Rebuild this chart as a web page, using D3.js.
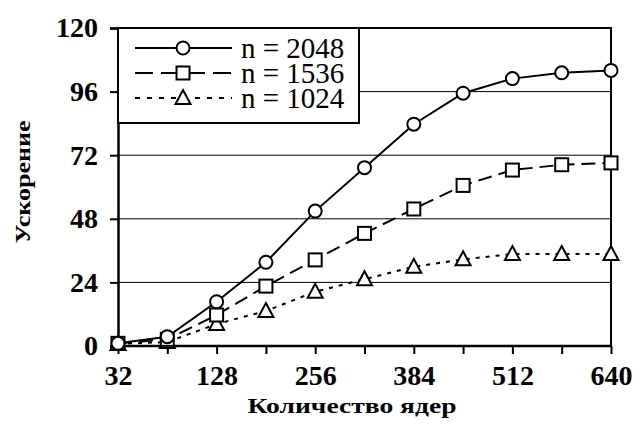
<!DOCTYPE html>
<html>
<head>
<meta charset="utf-8">
<script src="https://cdn.jsdelivr.net/npm/d3@7"></script>
<style>
  body { margin: 0; background: #fff; }
  svg { display: block; }
</style>
</head>
<body>
<div id="chart"></div>
<script>
// cores on the x axis (category axis, every second one is labelled)
const cores = ['32', '64', '128', '192', '256', '320', '384', '448', '512', '576', '640'];
const xTickLabels = ['32', '128', '256', '384', '512', '640'];
const yTicks = [0, 24, 48, 72, 96, 120];

// speedup per matrix size
const speedup2048 = [1, 3.5, 16.7, 31.6, 50.9, 67.3, 83.7, 95.4, 100.9, 103.1, 104.0];
const speedup1536 = [1, 2.5, 11.7, 22.6, 32.5, 42.5, 51.7, 60.6, 66.4, 68.4, 69.1];
const speedup1024 = [0.8, 1.5, 8.3, 13.2, 20.5, 25.2, 29.9, 32.7, 34.7, 34.7, 34.7];

const seriesNames = ['n = 2048', 'n = 1536', 'n = 1024'];

const width = 633;
const height = 437;
const margin = { l: 118, r: 22, t: 28, b: 91 };
const serif = 'Liberation Serif';

const series = [
  { name: seriesNames[0], values: speedup2048, dash: null, marker: 'circle' },
  { name: seriesNames[1], values: speedup1536, dash: '14,7', marker: 'square' },
  { name: seriesNames[2], values: speedup1024, dash: '4,6', marker: 'triangle' },
];

const svg = d3.select('#chart').append('svg')
  .attr('width', width)
  .attr('height', height);

const x = d3.scalePoint()
  .domain(cores)
  .range([margin.l, width - margin.r]);

const y = d3.scaleLinear()
  .domain([0, 120])
  .range([height - margin.b, margin.t]);

// grid lines
svg.append('g')
  .attr('class', 'y-grid')
  .selectAll('line')
  .data(yTicks.filter((d) => d > 0 && d < 120))
  .join('line')
    .attr('x1', margin.l)
    .attr('x2', width - margin.r)
    .attr('y1', (d) => y(d))
    .attr('y2', (d) => y(d))
    .attr('stroke', '#000')
    .attr('stroke-width', 1);

// frame: top and right
svg.append('path')
  .attr('d', `M${margin.l},${y(120)} H${width - margin.r} V${y(0)}`)
  .attr('fill', 'none')
  .attr('stroke', '#000')
  .attr('stroke-width', 2);

// y axis
const yAxis = svg.append('g')
  .attr('class', 'y-axis')
  .attr('transform', `translate(${margin.l},0)`)
  .call(d3.axisLeft(y).tickValues(yTicks).tickSize(8).tickPadding(12).tickFormat(d3.format('d')));
yAxis.select('.domain').attr('stroke-width', 2.5);
yAxis.selectAll('.tick line').attr('stroke-width', 2);
yAxis.selectAll('text')
  .attr('font-family', serif)
  .attr('font-size', 28)
  .attr('font-weight', 'bold')
  .attr('fill', '#000');

// x axis
const xAxis = svg.append('g')
  .attr('class', 'x-axis')
  .attr('transform', `translate(0,${y(0)})`)
  .call(d3.axisBottom(x).tickSize(8).tickPadding(11)
    .tickFormat((d) => xTickLabels.includes(d) ? d : ''));
xAxis.select('.domain').attr('stroke-width', 2.5).attr('d', `M${margin.l},0H${width - margin.r}`);
xAxis.selectAll('.tick line').attr('stroke-width', 2);
xAxis.selectAll('text')
  .attr('font-family', serif)
  .attr('font-size', 28)
  .attr('font-weight', 'bold')
  .attr('fill', '#000');

// axis titles
svg.append('text')
  .attr('x', 352)
  .attr('y', 413)
  .attr('text-anchor', 'middle')
  .attr('font-family', serif)
  .attr('font-weight', 'bold')
  .attr('font-size', 21)
  .attr('textLength', 209)
  .attr('lengthAdjust', 'spacingAndGlyphs')
  .text('Количество ядер');

svg.append('text')
  .attr('transform', `translate(30,182) rotate(-90)`)
  .attr('text-anchor', 'middle')
  .attr('font-family', serif)
  .attr('font-weight', 'bold')
  .attr('font-size', 22)
  .attr('textLength', 123)
  .attr('lengthAdjust', 'spacingAndGlyphs')
  .text('Ускорение');

function drawMarker(g, type, cx, cy) {
  if (type === 'circle') {
    g.append('circle').attr('cx', cx).attr('cy', cy).attr('r', 6.5);
  } else if (type === 'square') {
    g.append('rect').attr('x', cx - 6.5).attr('y', cy - 6.5).attr('width', 13).attr('height', 13);
  } else {
    g.append('path').attr('d', `M${cx},${cy - 8} L${cx + 7.5},${cy + 6} L${cx - 7.5},${cy + 6} Z`);
  }
}

// lines, drawn back to front
const line = d3.line()
  .x((d, i) => x(cores[i]))
  .y((d) => y(d));

const plot = svg.append('g').attr('class', 'series');
series.slice().reverse().forEach((s) => {
  plot.append('path')
    .datum(s.values)
    .attr('d', line)
    .attr('fill', 'none')
    .attr('stroke', '#000')
    .attr('stroke-width', 2)
    .attr('stroke-dasharray', s.dash);
});
series.slice().reverse().forEach((s) => {
  const mg = plot.append('g')
    .attr('fill', '#fff')
    .attr('stroke', '#000')
    .attr('stroke-width', 2);
  s.values.forEach((v, i) => drawMarker(mg, s.marker, x(cores[i]), y(v)));
});

// legend
const legend = svg.append('g').attr('class', 'legend');
legend.append('rect')
  .attr('x', margin.l)
  .attr('y', margin.t)
  .attr('width', 241)
  .attr('height', 95)
  .attr('fill', '#fff')
  .attr('stroke', '#000')
  .attr('stroke-width', 2);
const legendDash = [null, '18,8', '5,7'];
series.forEach((s, i) => {
  const ly = 48 + i * 25;
  legend.append('line')
    .attr('x1', 135)
    .attr('x2', 232)
    .attr('y1', ly)
    .attr('y2', ly)
    .attr('stroke', '#000')
    .attr('stroke-width', 2)
    .attr('stroke-dasharray', legendDash[i]);
  const mg = legend.append('g')
    .attr('fill', '#fff')
    .attr('stroke', '#000')
    .attr('stroke-width', 2);
  drawMarker(mg, s.marker, 183, ly);
  legend.append('text')
    .attr('x', 241)
    .attr('y', ly + 10)
    .attr('font-family', serif)
    .attr('font-size', 29)
    .text(s.name);
});
</script>
</body>
</html>
